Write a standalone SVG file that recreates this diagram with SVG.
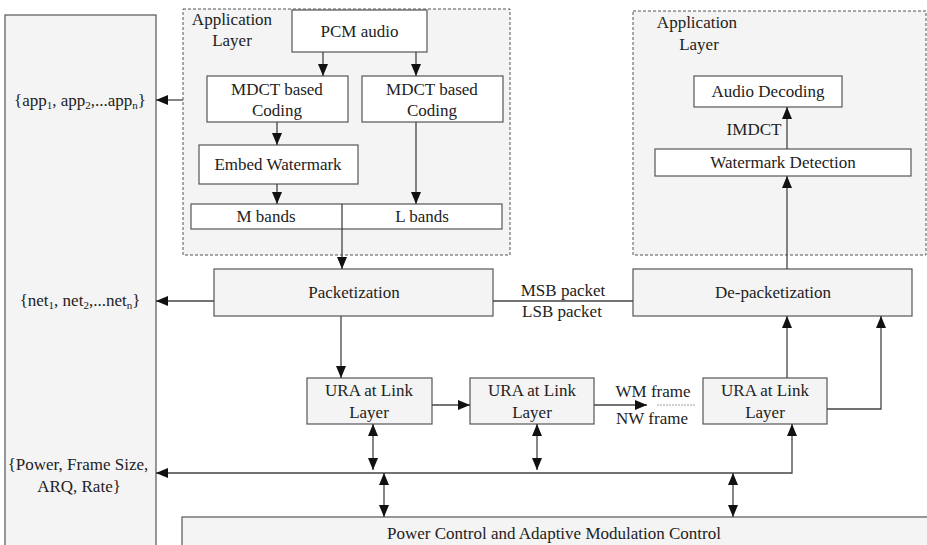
<svg xmlns="http://www.w3.org/2000/svg" width="927" height="545" viewBox="0 0 927 545">
<style>
text{font-family:'Liberation Serif','DejaVu Serif',serif;font-size:17px;fill:#222;text-anchor:middle}
.g{fill:#f4f4f4;stroke:#555;stroke-width:1.2}
.w{fill:#fff;stroke:#555;stroke-width:1.2}
.d{fill:#f4f4f4;stroke:#555;stroke-width:1;stroke-dasharray:3,2}
.c{fill:none;stroke:#444;stroke-width:1.3}
.s{font-size:11px}
</style>
<defs>
<marker id="a" markerUnits="userSpaceOnUse" markerWidth="12" markerHeight="10" refX="12" refY="5" orient="auto-start-reverse">
<path d="M0,0 L12,5 L0,10 Z" fill="#111"/>
</marker>
</defs>
<g id="side-panel">
<rect class="g" x="5" y="15" width="151" height="540"/>
<text x="80" y="106">{app<tspan class="s" dy="3">1</tspan><tspan dy="-3">, app</tspan><tspan class="s" dy="3">2</tspan><tspan dy="-3">,...app</tspan><tspan class="s" dy="3">n</tspan><tspan dy="-3">}</tspan></text>
<text x="80" y="306">{net<tspan class="s" dy="3">1</tspan><tspan dy="-3">, net</tspan><tspan class="s" dy="3">2</tspan><tspan dy="-3">,...net</tspan><tspan class="s" dy="3">n</tspan><tspan dy="-3">}</tspan></text>
<text x="78" y="470">{Power, Frame Size,</text>
<text x="79" y="492">ARQ, Rate}</text>
</g>
<g id="app-layer-tx">
<rect class="d" x="183" y="9" width="327" height="246"/>
<text x="232" y="25">Application</text>
<text x="232" y="46">Layer</text>
</g>
<g id="app-layer-rx">
<rect class="d" x="633" y="11" width="293" height="244"/>
<text x="697" y="28">Application</text>
<text x="699" y="50">Layer</text>
</g>
<g id="pcm"><rect class="w" x="292" y="10" width="135" height="42"/><text x="359.5" y="37">PCM audio</text></g>
<g id="mdct1"><rect class="w" x="207" y="76" width="141" height="46"/><text x="277" y="95">MDCT based</text><text x="277" y="116">Coding</text></g>
<g id="mdct2"><rect class="w" x="362" y="76" width="141" height="46"/><text x="432" y="95">MDCT based</text><text x="432" y="116">Coding</text></g>
<g id="embed"><rect class="w" x="199" y="145" width="159" height="39"/><text x="278" y="170">Embed Watermark</text></g>
<g id="bands"><rect class="w" x="191" y="204" width="311" height="25"/><text x="266" y="222">M bands</text><text x="422" y="222">L bands</text></g>
<g id="audio-dec"><rect class="w" x="694" y="76" width="148" height="31"/><text x="768" y="97">Audio Decoding</text></g>
<g id="wm-det"><rect class="w" x="655" y="149" width="256" height="27"/><text x="783" y="168">Watermark Detection</text></g>
<g id="packetization"><rect class="g" x="214" y="269" width="279" height="47"/><text x="354" y="298">Packetization</text></g>
<g id="depacketization"><rect class="g" x="633" y="269" width="279" height="47"/><text x="773" y="298">De-packetization</text></g>
<g id="ura1"><rect class="g" x="307" y="378" width="125" height="46"/><text x="369" y="396">URA at Link</text><text x="369" y="418">Layer</text></g>
<g id="ura2"><rect class="g" x="470" y="378" width="124" height="46"/><text x="532" y="396">URA at Link</text><text x="532" y="418">Layer</text></g>
<g id="ura3"><rect class="g" x="703" y="378" width="124" height="46"/><text x="765" y="396">URA at Link</text><text x="765" y="418">Layer</text></g>
<g id="power-control"><rect class="g" x="182" y="517" width="750" height="40"/><text x="554" y="539">Power Control and Adaptive Modulation Control</text></g>
<g id="connectors">
<path class="c" d="M323,52V76" marker-end="url(#a)"/>
<path class="c" d="M416,52V76" marker-end="url(#a)"/>
<path class="c" d="M277,122V145" marker-end="url(#a)"/>
<path class="c" d="M277,184V204" marker-end="url(#a)"/>
<path class="c" d="M416,122V204" marker-end="url(#a)"/>
<path class="c" d="M342,204V269" marker-end="url(#a)"/>
<path class="c" d="M183,100H156" marker-end="url(#a)"/>
<path class="c" d="M214,301H156" marker-end="url(#a)"/>
<path class="c" d="M493,301H633"/>
<text x="563" y="296">MSB packet</text>
<text x="562" y="317">LSB packet</text>
<path class="c" d="M341,316V378" marker-end="url(#a)"/>
<path class="c" d="M432,405H470" marker-end="url(#a)"/>
<path class="c" d="M594,405H647" marker-end="url(#a)"/>
<path d="M657,405H695" stroke="#888" stroke-width="0.8" stroke-dasharray="2,1" fill="none"/>
<text x="653" y="397">WM frame</text>
<text x="652" y="424">NW frame</text>
<path class="c" d="M787,378V316" marker-end="url(#a)"/>
<path class="c" d="M827,409H881V316" marker-end="url(#a)"/>
<path class="c" d="M787,269V176" marker-end="url(#a)"/>
<path class="c" d="M787,149V107" marker-end="url(#a)"/>
<text x="754" y="135">IMDCT</text>
<path class="c" d="M373,424V470" marker-start="url(#a)" marker-end="url(#a)"/>
<path class="c" d="M537,424V470" marker-start="url(#a)" marker-end="url(#a)"/>
<path class="c" d="M792,424V473H156" marker-start="url(#a)" marker-end="url(#a)"/>
<path class="c" d="M384,473V517" marker-start="url(#a)" marker-end="url(#a)"/>
<path class="c" d="M733,473V517" marker-start="url(#a)" marker-end="url(#a)"/>
</g>
</svg>
